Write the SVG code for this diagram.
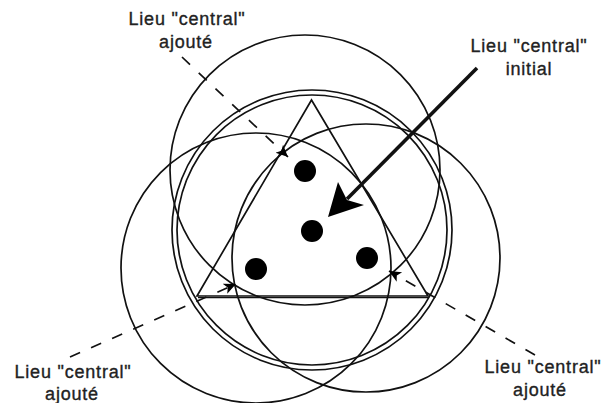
<svg xmlns="http://www.w3.org/2000/svg" width="601" height="403" viewBox="0 0 601 403">
<defs>
<style>
.c{fill:none;stroke:#111;stroke-width:1.7}
.t{fill:none;stroke:#111;stroke-width:1.7;stroke-linejoin:miter}
.d{fill:#000}
.dash{fill:none;stroke:#111;stroke-width:1.7;stroke-dasharray:11 12}
.lbl{font-family:"Liberation Sans",Arial,sans-serif;font-size:18px;fill:#222;stroke:#222;stroke-width:0.35;text-anchor:middle;letter-spacing:0.8px}
</style>
<marker id="sm" markerUnits="userSpaceOnUse" markerWidth="14" markerHeight="12" refX="12" refY="5.5" orient="auto">
<path d="M0,0 L12,5.5 L0,11 L3,5.5 z" fill="#000"/>
</marker>
</defs>
<rect width="601" height="403" fill="#fff"/>
<g id="circle-top"><circle class="c" cx="305" cy="170" r="135"/></g>
<g id="circle-left"><circle class="c" cx="256" cy="268" r="135"/></g>
<g id="circle-right"><circle class="c" cx="366" cy="258" r="134"/></g>
<g id="circle-central"><circle class="c" cx="312" cy="230" r="140"/><circle class="c" cx="312" cy="230" r="135"/></g>
<g id="triangle"><polygon class="t" points="311.5,100 197,296 428,296"/><line x1="198" y1="297.6" x2="428" y2="297.6" stroke="#111" stroke-width="1.2"/></g>
<g id="dots">
<circle class="d" cx="305" cy="171" r="11"/>
<circle class="d" cx="312" cy="231" r="11"/>
<circle class="d" cx="256" cy="269" r="11"/>
<circle class="d" cx="367" cy="258" r="11"/>
</g>
<g id="connectors">
<line class="dash" x1="182" y1="57" x2="288" y2="157" marker-end="url(#sm)"/>
<line class="dash" x1="70" y1="357" x2="236" y2="284" marker-end="url(#sm)"/>
<line class="dash" x1="535" y1="355" x2="389" y2="271" marker-end="url(#sm)"/>
<line x1="477" y1="68" x2="347" y2="199" stroke="#111" stroke-width="3.6"/>
<polygon points="328,217 338,182 347,200 364,205" fill="#000"/>
</g>
<g id="label-top-left"><text class="lbl" x="187" y="25">Lieu "central"</text><text class="lbl" x="186" y="48">ajouté</text></g>
<g id="label-top-right"><text class="lbl" x="529" y="52">Lieu "central"</text><text class="lbl" x="529" y="75">initial</text></g>
<g id="label-bottom-left"><text class="lbl" x="73" y="378">Lieu "central"</text><text class="lbl" x="72" y="400">ajouté</text></g>
<g id="label-bottom-right"><text class="lbl" x="543" y="373">Lieu "central"</text><text class="lbl" x="540" y="396">ajouté</text></g>
</svg>
